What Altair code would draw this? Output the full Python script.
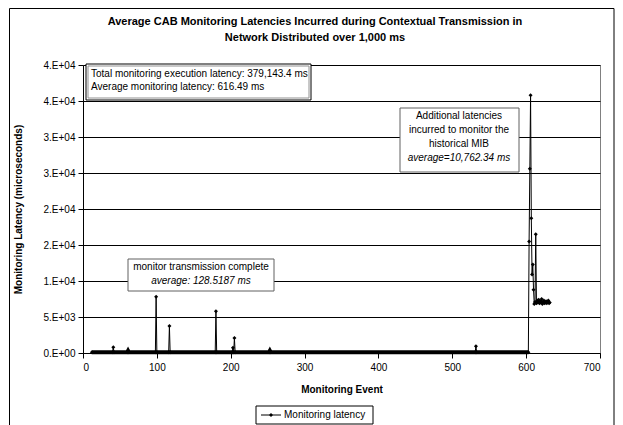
import altair as alt
import pandas as pd

# ---------------- data ----------------
events = [12, 40, 41, 42, 60, 61, 62, 98, 99, 100, 116, 117, 118,
          179, 180, 181, 202, 203, 204, 205, 206, 252, 253, 254,
          531, 532, 533, 603,
          604, 605, 606, 607, 608, 609, 610, 611, 612, 613, 614, 615,
          616, 617, 618, 619, 620, 621, 622, 623, 624, 625, 626, 627,
          628, 629, 630, 631, 632]
latency = [110, 100, 790, 100, 100, 300, 100, 100, 7820, 100, 100, 3750, 100,
           100, 5790, 100, 100, 740, 100, 2080, 100, 100, 300, 100,
           100, 950, 100, 100,
           15500, 25600, 35800, 18700, 10900, 12300, 8800, 6800, 7100, 16500, 6900, 7300,
           7000, 7400, 6900, 7200, 7000, 7500, 6800, 7100, 7300, 6900, 7000, 7200,
           6900, 7100, 7300, 6900, 7000]

x_ticks = [0, 100, 200, 300, 400, 500, 600, 700]
y_ticks = [0, 5000, 10000, 15000, 20000, 25000, 30000, 35000, 40000]
y_tick_labels = ["0.E+00", "5.E+03", "1.E+04", "2.E+04", "2.E+04",
                 "3.E+04", "3.E+04", "4.E+04", "4.E+04"]

title_lines = ["Average CAB Monitoring Latencies Incurred during Contextual Transmission in",
               "Network Distributed over 1,000 ms"]
box1_lines = ["Total monitoring execution latency: 379,143.4 ms",
              "Average monitoring latency: 616.49 ms"]
box2_lines = ["Additional latencies", "incurred to monitor the", "historical MIB"]
box2_italic = "average=10,762.34 ms"
box3_line = "monitor transmission complete"
box3_italic = "average: 128.5187 ms"
legend_label = "Monitoring latency"

# ---------------- layout ----------------
W, H = 517, 288
FONT = "Liberation Sans"

df = pd.DataFrame({"event": events, "latency": latency})

label_expr = "[" + ",".join("'%s'" % s for s in y_tick_labels) + "][round(datum.value/5000)]"

xenc = alt.X("event:Q",
             scale=alt.Scale(domain=[0, 700], nice=False, zero=False),
             axis=alt.Axis(values=x_ticks, format="d", title="Monitoring Event",
                           grid=False, tickSize=5, labelPadding=4, titlePadding=12,
                           domainColor="black", tickColor="black",
                           labelFont=FONT, labelFontSize=10, labelColor="black",
                           titleFont=FONT, titleFontSize=10, titleFontWeight="bold",
                           titleColor="black"))
yenc = alt.Y("latency:Q",
             scale=alt.Scale(domain=[0, 40000], nice=False),
             axis=alt.Axis(values=y_ticks, labelExpr=label_expr,
                           title="Monitoring Latency (microseconds)",
                           grid=True, gridColor="black", gridWidth=1,
                           tickSize=5, labelPadding=3, titlePadding=20,
                           domainColor="black", tickColor="black",
                           labelFont=FONT, labelFontSize=10, labelColor="black",
                           titleFont=FONT, titleFontSize=10, titleFontWeight="bold",
                           titleColor="black"))

base = alt.Chart(df)
band = base.transform_filter("datum.latency < 500 && datum.event <= 603").mark_line(
    color="black", strokeWidth=4).encode(x=xenc, y=yenc)
line = base.mark_line(color="black", strokeWidth=1).encode(x=xenc, y=yenc)
pts = base.mark_point(shape="diamond", filled=True, size=16, color="black", opacity=1).encode(x=xenc, y=yenc)

one = alt.Data(values=[{}])


def rect(x1, x2, y1, y2, stroke="black", fill="white", sw=1, fill_opacity=1):
    return alt.Chart(one).mark_rect(fill=fill, fillOpacity=fill_opacity, stroke=stroke,
                                    strokeWidth=sw).encode(
        x=alt.value(x1), x2=alt.value(x2), y=alt.value(y1), y2=alt.value(y2))


def text(t, x, y, align="center", size=10, weight="normal", style="normal"):
    return alt.Chart(one).mark_text(text=t, align=align, baseline="middle", font=FONT,
                                    fontSize=size, fontWeight=weight, fontStyle=style,
                                    color="black").encode(x=alt.value(x), y=alt.value(y))


layers = [band, line, pts]

# title
layers.append(text(title_lines[0], 232, -43, size=11, weight="bold"))
layers.append(text(title_lines[1], 232, -27, size=11, weight="bold"))

# box 1 (top-left summary)
layers.append(rect(3, 228, -1, 35, stroke="black"))
layers.append(rect(5, 226, 1, 33, stroke="#909090", fill_opacity=0))
layers.append(text(box1_lines[0], 8, 9, align="left"))
layers.append(text(box1_lines[1], 8, 22, align="left"))

# box 2 (historical MIB)
layers.append(rect(317, 436, 43, 107, stroke="#606060"))
for i, s in enumerate(box2_lines):
    layers.append(text(s, 376, 51 + 14 * i))
layers.append(text(box2_italic, 376, 93, style="italic"))

# box 3 (transmission complete)
layers.append(rect(45, 191, 194, 226, stroke="#606060"))
layers.append(text(box3_line, 118, 202))
layers.append(text(box3_italic, 118, 216, style="italic"))

# legend
layers.append(rect(173, 290, H + 53, H + 71, stroke="black"))
legend_line = alt.Chart(one).mark_rule(color="black", strokeWidth=1).encode(
    x=alt.value(178), x2=alt.value(198), y=alt.value(H + 62))
layers.append(legend_line)
layers.append(alt.Chart(one).mark_point(shape="diamond", filled=True, size=16, color="black",
                                        opacity=1).encode(x=alt.value(188), y=alt.value(H + 62)))
layers.append(text(legend_label, 201, H + 62, align="left"))

# outer chart frame
layers.append(rect(-73.5, 531, -56.5, H + 90, stroke="black", fill_opacity=0))

chart = alt.layer(*layers).properties(
    width=W, height=H,
    autosize=alt.AutoSizeParams(type="none"),
    padding={"left": 75, "top": 57, "right": 15, "bottom": 72},
    background="white",
).configure_view(stroke="#808080", strokeWidth=1)

chart.save("out.html", embed_options={"renderer": "svg", "actions": False})
